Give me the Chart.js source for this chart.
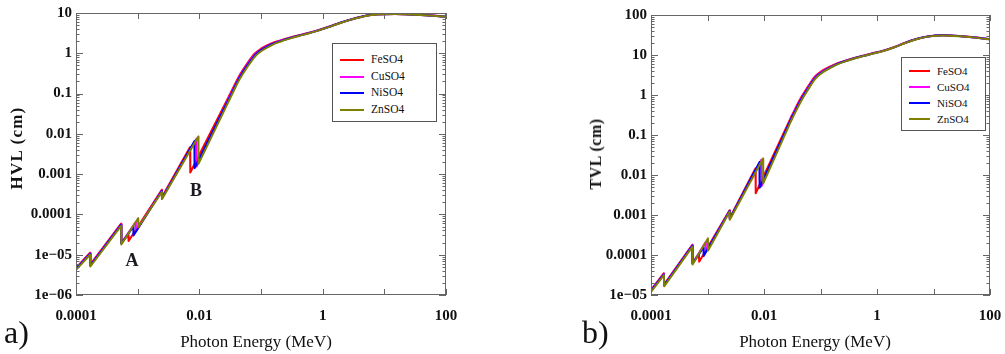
<!DOCTYPE html>
<html>
<head>
<meta charset="utf-8">
<script src="https://cdn.jsdelivr.net/npm/chart.js@4.4.1/dist/chart.umd.min.js"></script>
<style>
  body { margin: 0; background: #fff; width: 1005px; height: 354px; position: relative; overflow: hidden; font-family: "Liberation Serif", serif; color: #111; }
  canvas { position: absolute; top: 0; }
  #chartA { left: 0; }
  #chartB { left: 560px; }
  .txt { position: absolute; white-space: nowrap; line-height: 1; }
  .ytitle { font-weight: bold; transform: translate(-50%, -50%) rotate(-90deg); }
  .xtitle { font-size: 17px; transform: translate(-50%, -50%); }
  .panel { font-size: 32px; }
  .mark { font-weight: bold; font-size: 18px; transform: translate(-50%, -50%); color: #1a1a22; }
  .legend { position: absolute; background: #fff; border: 1px solid #555; box-sizing: border-box; }
  .legend .row { position: absolute; left: 0; right: 0; height: 0; }
  .legend .swatch { position: absolute; height: 2px; top: -1px; }
  .legend .name { position: absolute; top: 0; transform: translateY(-50%); line-height: 1; white-space: nowrap; }
</style>
</head>
<body>
<canvas id="chartA" width="460" height="354"></canvas>
<canvas id="chartB" width="445" height="354"></canvas>

<div class="txt ytitle" style="left:16px; top:148px; font-size:17px; letter-spacing:1.2px;">HVL (cm)</div>
<div class="txt ytitle" style="left:596px; top:154px; font-size:16px; letter-spacing:0.5px;">TVL (cm)</div>
<div class="txt xtitle" style="left:256px; top:341px;">Photon Energy (MeV)</div>
<div class="txt xtitle" style="left:815px; top:341px;">Photon Energy (MeV)</div>
<div class="txt panel" style="left:4px; top:316px;">a)</div>
<div class="txt panel" style="left:582px; top:316px;">b)</div>
<div class="txt mark" style="left:132px; top:260px;">A</div>
<div class="txt mark" style="left:196px; top:190px;">B</div>

<script>
// compounds and colours
const compounds = ['FeSO4', 'CuSO4', 'NiSO4', 'ZnSO4'];
const colors = ['#ff0000', '#ff00ff', '#0000ff', '#808000'];

// photon energy (MeV), each compound has its own absorption edges
const energyFe = [1e-4, 1.69e-4, 1.71e-4, 5.38e-4, 5.44e-4, 7.06e-4, 7.12e-4, 2.46e-3, 2.48e-3, 7.09e-3, 7.13e-3,
  0.031, 0.045, 0.06, 0.08, 0.1, 0.15, 0.2, 0.3, 0.5, 0.8, 1.25, 2, 3, 5, 8, 15, 30, 60, 100];
const energyCu = [1e-4, 1.69e-4, 1.71e-4, 5.38e-4, 5.44e-4, 9.30e-4, 9.36e-4, 2.46e-3, 2.48e-3, 8.96e-3, 9.01e-3,
  0.031, 0.045, 0.06, 0.08, 0.1, 0.15, 0.2, 0.3, 0.5, 0.8, 1.25, 2, 3, 5, 8, 15, 30, 60, 100];
const energyNi = [1e-4, 1.69e-4, 1.71e-4, 5.38e-4, 5.44e-4, 8.50e-4, 8.56e-4, 2.46e-3, 2.48e-3, 8.31e-3, 8.36e-3,
  0.031, 0.045, 0.06, 0.08, 0.1, 0.15, 0.2, 0.3, 0.5, 0.8, 1.25, 2, 3, 5, 8, 15, 30, 60, 100];
const energyZn = [1e-4, 1.69e-4, 1.71e-4, 5.38e-4, 5.44e-4, 1.017e-3, 1.023e-3, 2.46e-3, 2.48e-3, 9.64e-3, 9.69e-3,
  0.031, 0.045, 0.06, 0.08, 0.1, 0.15, 0.2, 0.3, 0.5, 0.8, 1.25, 2, 3, 5, 8, 15, 30, 60, 100];

// a) half value layer (cm)
const hvlFe = [4.7e-6, 1.12e-5, 5.8e-6, 5.9e-5, 2.0e-5, 3.1e-5, 2.2e-5, 4.1e-4, 2.7e-4, 4.7e-3, 1.1e-3,
  0.092, 0.285, 0.565, 1.0, 1.3, 1.78, 2.06, 2.47, 3.01, 3.66, 4.56, 5.86, 7.06, 8.56, 9.31, 9.51, 9.16, 8.66, 8.06];
const hvlCu = [4.5e-6, 1.08e-5, 5.6e-6, 5.7e-5, 1.95e-5, 6.5e-5, 3.8e-5, 3.9e-4, 2.6e-4, 7.6e-3, 1.55e-3,
  0.085, 0.264, 0.53, 0.945, 1.24, 1.72, 2.01, 2.43, 2.98, 3.63, 4.53, 5.83, 7.03, 8.53, 9.28, 9.48, 9.13, 8.63, 8.03];
const hvlNi = [4.4e-6, 1.05e-5, 5.4e-6, 5.5e-5, 1.9e-5, 5.0e-5, 3.0e-5, 3.8e-4, 2.5e-4, 6.6e-3, 1.4e-3,
  0.080, 0.25, 0.5, 0.9, 1.2, 1.68, 1.98, 2.4, 2.95, 3.6, 4.5, 5.8, 7.0, 8.5, 9.25, 9.45, 9.1, 8.6, 8.0];
const hvlZn = [4.2e-6, 1.0e-5, 5.1e-6, 5.2e-5, 1.8e-5, 8.0e-5, 4.8e-5, 3.6e-4, 2.4e-4, 8.6e-3, 1.8e-3,
  0.072, 0.226, 0.455, 0.83, 1.12, 1.6, 1.91, 2.34, 2.9, 3.55, 4.45, 5.75, 6.95, 8.45, 9.2, 9.4, 9.05, 8.55, 7.95];

// b) tenth value layer (cm)
const tvlFe = [1.35e-5, 3.5e-5, 1.85e-5, 1.8e-4, 6.4e-5, 1.02e-4, 6.8e-5, 1.32e-3, 8.4e-4, 0.0148, 3.5e-3,
  0.305, 0.85, 1.62, 2.92, 3.8, 5.2, 6.25, 7.5, 9.2, 10.9, 12.7, 15.7, 19.7, 25.2, 29.2, 31.2, 29.7, 27.2, 24.7];
const tvlCu = [1.3e-5, 3.4e-5, 1.8e-5, 1.75e-4, 6.2e-5, 2.1e-4, 1.2e-4, 1.28e-3, 8.2e-4, 0.024, 5.2e-3,
  0.285, 0.8, 1.53, 2.78, 3.65, 5.05, 6.1, 7.4, 9.1, 10.8, 12.6, 15.6, 19.6, 25.1, 29.1, 31.1, 29.6, 27.1, 24.6];
const tvlNi = [1.27e-5, 3.3e-5, 1.75e-5, 1.7e-4, 6.1e-5, 1.55e-4, 9.5e-5, 1.25e-3, 8.0e-4, 0.021, 4.8e-3,
  0.27, 0.75, 1.45, 2.65, 3.5, 4.9, 6.0, 7.3, 9.0, 10.7, 12.5, 15.5, 19.5, 25, 29, 31, 29.5, 27, 24.5];
const tvlZn = [1.2e-5, 3.15e-5, 1.65e-5, 1.6e-4, 5.8e-5, 2.6e-4, 1.3e-4, 1.2e-3, 7.6e-4, 0.026, 6.2e-3,
  0.245, 0.69, 1.35, 2.5, 3.35, 4.75, 5.85, 7.2, 8.9, 10.6, 12.4, 15.4, 19.4, 24.8, 28.8, 30.8, 29.3, 26.8, 24.3];

// tick labels
const xTickValues = [1e-4, 1e-2, 1, 100];
const xTickLabels = ['0.0001', '0.01', '1', '100'];
const yTickValuesA = [10, 1, 0.1, 0.01, 0.001, 1e-4, 1e-5, 1e-6];
const yTickLabelsA = ['10', '1', '0.1', '0.01', '0.001', '0.0001', '1e\u221205', '1e\u221206'];
const yTickValuesB = [100, 10, 1, 0.1, 0.01, 0.001, 1e-4, 1e-5];
const yTickLabelsB = ['100', '10', '1', '0.1', '0.01', '0.001', '0.0001', '1e\u221205'];

const energies = [energyFe, energyCu, energyNi, energyZn];
const SMOOTH_FROM = 0.031; // above this the curves are smooth, below they have edges

function splitSeries(energy, values) {
  const edge = [], smooth = [];
  energy.forEach((e, i) => {
    const pt = { x: e, y: values[i] };
    if (e <= SMOOTH_FROM) edge.push(pt);
    if (e >= SMOOTH_FROM) smooth.push(pt);
  });
  return { edge, smooth };
}

function buildDatasets(valueSets) {
  const out = [];
  compounds.forEach((name, i) => {
    const parts = splitSeries(energies[i], valueSets[i]);
    const common = { label: name, borderColor: colors[i], backgroundColor: colors[i], borderWidth: 2,
      pointRadius: 0, fill: false, order: 4 - i, borderJoinStyle: 'round', borderCapStyle: 'round' };
    out.push(Object.assign({ data: parts.edge, tension: 0 }, common));
    out.push(Object.assign({ data: parts.smooth, cubicInterpolationMode: 'monotone' }, common));
  });
  return out;
}

function labelFor(values, labels) {
  return (v) => {
    const i = values.findIndex(t => Math.abs(Math.log10(t) - Math.log10(v)) < 1e-6);
    return i >= 0 ? labels[i] : '';
  };
}

// frame with inward ticks on all four sides
const frameTicks = {
  id: 'frameTicks',
  afterDraw(chart) {
    const { ctx, chartArea: a, scales: { x, y } } = chart;
    ctx.save();
    ctx.strokeStyle = '#666';
    ctx.lineWidth = 1;
    ctx.strokeRect(a.left + 0.5, a.top + 0.5, a.right - a.left - 1, a.bottom - a.top - 1);
    ctx.beginPath();
    const kx0 = Math.round(Math.log10(x.min)), kx1 = Math.round(Math.log10(x.max));
    for (let k = kx0; k <= kx1; k++) {
      const px = Math.round(x.getPixelForValue(Math.pow(10, k))) + 0.5;
      ctx.moveTo(px, a.bottom); ctx.lineTo(px, a.bottom - 6);
      ctx.moveTo(px, a.top); ctx.lineTo(px, a.top + 6);
    }
    const ky0 = Math.round(Math.log10(y.min)), ky1 = Math.round(Math.log10(y.max));
    for (let k = ky0; k <= ky1; k++) {
      for (let m = 1; m <= 9; m++) {
        const v = m * Math.pow(10, k);
        if (v > y.max * 1.0001) break;
        const py = Math.round(y.getPixelForValue(v)) + 0.5;
        const len = m === 1 ? 7 : 3.5;
        ctx.moveTo(a.left, py); ctx.lineTo(a.left + len, py);
        ctx.moveTo(a.right, py); ctx.lineTo(a.right - len, py);
      }
    }
    ctx.stroke();
    ctx.restore();
  }
};

const tickFont = { family: 'Liberation Serif', size: 15, weight: 'bold' };

function makeChart(id, valueSets, yMin, yMax, yVals, yLabels, area) {
  return new Chart(document.getElementById(id), {
    type: 'line',
    data: { datasets: buildDatasets(valueSets) },
    plugins: [frameTicks],
    options: {
      responsive: false,
      animation: false,
      devicePixelRatio: 1,
      layout: { padding: { top: area.top, right: area.right, bottom: 0, left: 0 } },
      plugins: { legend: { display: false }, tooltip: { enabled: false } },
      scales: {
        x: {
          type: 'logarithmic', min: 1e-4, max: 100,
          grid: { display: false, drawTicks: false },
          border: { display: false },
          afterBuildTicks: (s) => { s.ticks = xTickValues.map(v => ({ value: v })); },
          afterFit: (s) => { s.height = area.bottom; s.paddingLeft = 0; s.paddingRight = 0; },
          ticks: { autoSkip: false, maxRotation: 0, padding: 12, color: '#111', font: tickFont,
            callback: labelFor(xTickValues, xTickLabels) }
        },
        y: {
          type: 'logarithmic', min: yMin, max: yMax,
          grid: { display: false, drawTicks: false },
          border: { display: false },
          afterBuildTicks: (s) => { s.ticks = yVals.map(v => ({ value: v })); },
          afterFit: (s) => { s.width = area.left; },
          ticks: { autoSkip: false, padding: 4, color: '#111', font: tickFont,
            callback: labelFor(yVals, yLabels) }
        }
      }
    }
  });
}

makeChart('chartA', [hvlFe, hvlCu, hvlNi, hvlZn], 1e-6, 10, yTickValuesA, yTickLabelsA,
  { left: 76, top: 10, right: 14, bottom: 59 });
makeChart('chartB', [tvlFe, tvlCu, tvlNi, tvlZn], 1e-5, 100, yTickValuesB, yTickLabelsB,
  { left: 91, top: 15, right: 15, bottom: 59 });

// legend boxes drawn inside each plot
function addLegend(box) {
  const div = document.createElement('div');
  div.className = 'legend';
  Object.assign(div.style, { left: box.left + 'px', top: box.top + 'px', width: box.width + 'px', height: box.height + 'px' });
  compounds.forEach((name, i) => {
    const row = document.createElement('div');
    row.className = 'row';
    row.style.top = (box.first + i * box.step) + 'px';
    const sw = document.createElement('div');
    sw.className = 'swatch';
    Object.assign(sw.style, { left: box.lineX + 'px', width: box.lineW + 'px', background: colors[i] });
    const tx = document.createElement('div');
    tx.className = 'name';
    tx.style.left = box.textX + 'px';
    tx.style.fontSize = box.font + 'px';
    tx.textContent = name;
    row.appendChild(sw);
    row.appendChild(tx);
    div.appendChild(row);
  });
  document.body.appendChild(div);
}
addLegend({ left: 332, top: 43, width: 105, height: 79, first: 16, step: 16.6, lineX: 7, lineW: 24, textX: 38, font: 11.5 });
addLegend({ left: 901, top: 57, width: 85, height: 74, first: 13, step: 16, lineX: 7, lineW: 21, textX: 35, font: 11 });
</script>
</body>
</html>
